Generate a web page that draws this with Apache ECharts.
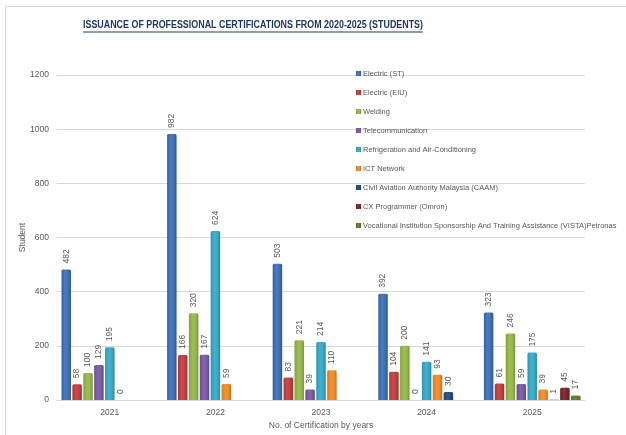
<!DOCTYPE html>
<html>
<head>
<meta charset="utf-8">
<script src="https://cdn.jsdelivr.net/npm/echarts@6/dist/echarts.min.js"></script>
<style>
html,body{margin:0;padding:0;background:#fff;}
#chart{width:626px;height:435px;}
</style>
</head>
<body>
<div id="chart"></div>
<script>
// ---- data ----
const titleText = 'ISSUANCE OF PROFESSIONAL CERTIFICATIONS FROM 2020-2025 (STUDENTS)';
const years = ['2021', '2022', '2023', '2024', '2025'];
const seriesNames = [
  'Electric (ST)',
  'Electric (EIU)',
  'Welding',
  'Telecommunication',
  'Refrigeration and Air-Conditioning',
  'ICT Network',
  'Civil Aviation Authority Malaysia (CAAM)',
  'CX Programmer (Omron)',
  'Vocational Institution Sponsorship And Training Assistance (VISTA)Petronas'
];
const electricST   = [482, 982, 503, 392, 323];
const electricEIU  = [58, 166, 83, 104, 61];
const welding      = [100, 320, 221, 200, 246];
const telecom      = [129, 167, 39, 0, 59];
const refrigAC     = [195, 624, 214, 141, 175];
const ictNetwork   = [0, 59, 110, 93, 39];
const caam         = [null, null, null, 30, 1];
const cxProgrammer = [null, null, null, null, 45];
const vista        = [null, null, null, null, 17];
const yTicks = [0, 200, 400, 600, 800, 1000, 1200];

const seriesData = [electricST, electricEIU, welding, telecom, refrigAC, ictNetwork, caam, cxProgrammer, vista];
const colors = ['#3a6fb8', '#c63b3d', '#93b847', '#7b58a3', '#33aac8', '#f48a22', '#1f4a7e', '#7d2222', '#5f7d2c'];

function shade(hex, f) {
  const n = parseInt(hex.slice(1), 16);
  let r = (n >> 16) & 255, g = (n >> 8) & 255, b = n & 255;
  const adj = c => f >= 0 ? Math.round(c + (255 - c) * f) : Math.round(c * (1 + f));
  return 'rgb(' + adj(r) + ',' + adj(g) + ',' + adj(b) + ')';
}
function grad(c) {
  return new echarts.graphic.LinearGradient(0, 0, 1, 0, [
    {offset: 0, color: shade(c, -0.12)},
    {offset: 0.4, color: shade(c, 0.08)},
    {offset: 0.75, color: c},
    {offset: 1, color: shade(c, -0.22)}
  ]);
}

// measure title to fit the reference width (horizontal squeeze like a condensed face)
const cv = document.createElement('canvas').getContext('2d');
const titleFamily = 'Liberation Sans';
const titleSize = 11;
const titleFont = 'bold ' + titleSize + 'px "' + titleFamily + '"';
cv.font = titleFont;
const rawW = cv.measureText(titleText).width;
const targetW = 340;
const sx = targetW / rawW;
const titleCx = 253;

const chart = echarts.init(document.getElementById('chart'), null, {renderer: 'canvas'});
const gray = '#595959';
chart.setOption({
  animation: false,
  backgroundColor: '#fff',
  color: colors,
  textStyle: {fontFamily: 'Liberation Sans'},
  graphic: [
    {type: 'rect', shape: {x: 5.5, y: 6.5, width: 700, height: 500}, style: {fill: 'none', stroke: '#d9d9d9', lineWidth: 1}, z: -10},
    {type: 'text', x: titleCx, y: 25, scaleX: sx, style: {text: titleText, fill: '#1f3864', font: titleFont, textAlign: 'center', textVerticalAlign: 'middle'}},
    {type: 'line', shape: {x1: titleCx - targetW / 2, y1: 32, x2: titleCx + targetW / 2, y2: 32}, style: {stroke: '#1f3864', lineWidth: 1}}
  ],
  legend: {
    orient: 'vertical',
    left: 356,
    top: 69,
    padding: 0,
    itemWidth: 5,
    itemHeight: 5,
    itemGap: 10,
    icon: 'rect',
    data: seriesNames,
    textStyle: {fontSize: 7.5, color: gray, lineHeight: 9, fontFamily: 'Liberation Sans', padding: [0, 0, 0, -3]}
  },
  grid: {left: 57, right: 41, top: 75, bottom: 35},
  xAxis: {
    type: 'category',
    data: years,
    name: 'No. of Certification by years',
    nameLocation: 'middle',
    nameGap: 21,
    nameMoveOverlap: false,
    nameTextStyle: {fontSize: 8.5, color: gray},
    axisLine: {lineStyle: {color: '#d9d9d9'}},
    axisTick: {show: false},
    axisLabel: {fontSize: 8.5, color: gray, margin: 8}
  },
  yAxis: {
    type: 'value',
    min: 0,
    max: 1200,
    interval: 200,
    name: 'Student',
    nameLocation: 'middle',
    nameGap: 30,
    nameMoveOverlap: false,
    nameTextStyle: {fontSize: 8.5, color: gray},
    axisLine: {show: false},
    axisTick: {show: false},
    axisLabel: {fontSize: 8.5, color: gray, margin: 8, formatter: v => yTicks.indexOf(v) >= 0 ? String(v) : ''},
    splitLine: {lineStyle: {color: '#d9d9d9'}}
  },
  series: seriesNames.map((name, i) => ({
    name: name,
    type: 'bar',
    data: seriesData[i],
    barCategoryGap: '8.5%',
    barGap: '15%',
    itemStyle: {color: grad(colors[i]), borderRadius: [1.5, 1.5, 0, 0]},
    label: {
      show: true,
      position: 'top',
      rotate: 90,
      align: 'left',
      verticalAlign: 'middle',
      distance: 6,
      fontSize: 8.5,
      color: gray
    }
  }))
});
</script>
</body>
</html>
